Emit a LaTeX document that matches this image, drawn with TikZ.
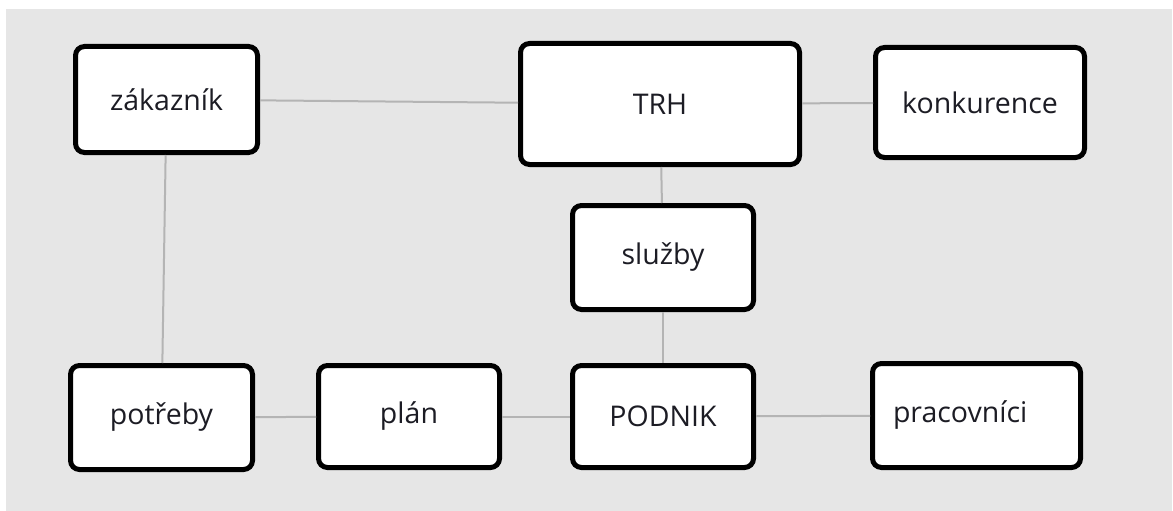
\documentclass[tikz,border=0pt]{standalone}
\usepackage{fontspec}
\setmainfont{Open Sans}
\definecolor{panel}{HTML}{E6E6E6}
\definecolor{link}{HTML}{B4B4B4}
\definecolor{ink}{HTML}{1C1C24}
\begin{document}
\begin{tikzpicture}[x=1pt,y=-1pt,
  box/.style={draw=black, line width=5pt, fill=white, rounded corners=9pt,
    inner sep=0pt, font=\fontsize{28.5}{33}\selectfont, text=ink},
  link/.style={draw=link, line width=2pt}]
  % canvas and grey panel
  \useasboundingbox (0,0) rectangle (1173,511);
  \fill[white] (0,0) rectangle (1173,511);
  \fill[panel] (6,9) rectangle (1172,511);

  % boxes
  \node[box, minimum width=182pt, minimum height=106pt] (zak) at (166.5,99.5) {zákazník};
  \node[box, minimum width=279pt, minimum height=121pt] (trh) at (660,104) {TRH};
  \node[box, minimum width=209pt, minimum height=110pt] (konk) at (980,102.5) {konkurence};
  \node[box, minimum width=181pt, minimum height=104pt] (sluz) at (663,257.5) {služby};
  \node[box, minimum width=181pt, minimum height=102pt] (podnik) at (663,416.5) {PODNIK};
  \node[box, minimum width=182pt, minimum height=104pt] (potr) at (161.5,417.5) {potřeby};
  \node[box, minimum width=181pt, minimum height=102pt] (plan) at (409,416.5) {plán};
  \node[box, minimum width=208pt, minimum height=104pt, text width=167pt, align=left] (prac) at (976.5,415.5) {pracovníci};

  % connectors between the boxes
  \path[link] (zak) -- (trh);
  \path[link] (trh) -- (konk);
  \path[link] (zak) -- (potr);
  \path[link] (trh) -- (sluz);
  \path[link] (sluz) -- (podnik);
  \path[link] (potr) -- (plan);
  \path[link] (plan) -- (podnik);
  \path[link] (podnik) -- (prac);
\end{tikzpicture}
\end{document}
